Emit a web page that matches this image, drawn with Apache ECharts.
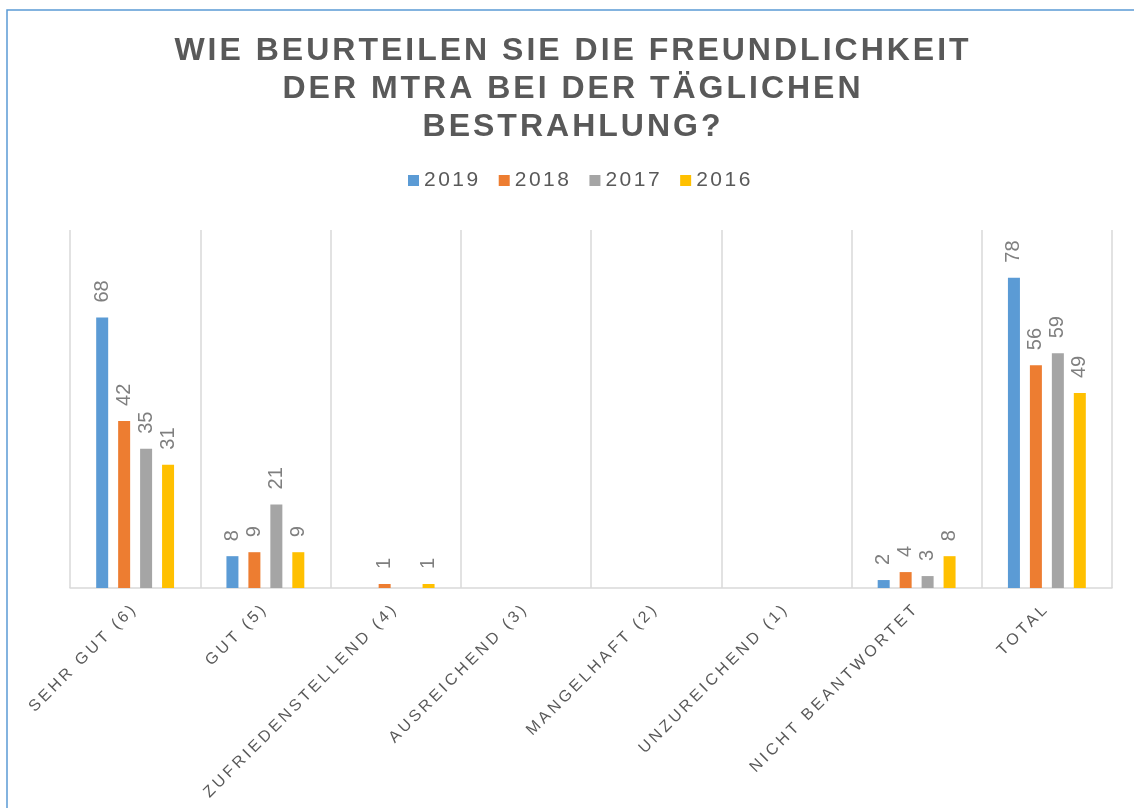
<!DOCTYPE html>
<html>
<head>
<meta charset="utf-8">
<script src="https://cdn.jsdelivr.net/npm/echarts@6/dist/echarts.min.js"></script>
<style>
html,body{margin:0;padding:0;background:#fff;}
#chart{width:1134px;height:808px;}
</style>
</head>
<body>
<div id="chart"></div>
<script>
const titleText = 'WIE BEURTEILEN SIE DIE FREUNDLICHKEIT\nDER MTRA BEI DER TÄGLICHEN\nBESTRAHLUNG?';
const categories = ['SEHR GUT (6)', 'GUT (5)', 'ZUFRIEDENSTELLEND (4)', 'AUSREICHEND (3)', 'MANGELHAFT (2)', 'UNZUREICHEND (1)', 'NICHT BEANTWORTET', 'TOTAL'];
const seriesNames = ['2019', '2018', '2017', '2016'];
const values2019 = [68, 8, null, null, null, null, 2, 78];
const values2018 = [42, 9, 1, null, null, null, 4, 56];
const values2017 = [35, 21, null, null, null, null, 3, 59];
const values2016 = [31, 9, 1, null, null, null, 8, 49];
const colors = ['#5b9bd5', '#ed7d31', '#a5a5a5', '#ffc000'];

// letter spacing per font size (px), applied at draw time
const SPACING = { '32': '3px', '16': '3.3px', '21': '2.5px' };
(function () {
  const P = CanvasRenderingContext2D.prototype;
  const orig = P.fillText;
  P.fillText = function (t, x, y, m) {
    if ('letterSpacing' in this) {
      const mm = /(\d+(?:\.\d+)?)px/.exec(this.font || '');
      this.letterSpacing = (mm && SPACING[mm[1]]) || '0px';
    }
    return m === undefined ? orig.call(this, t, x, y) : orig.call(this, t, x, y, m);
  };
})();

const FONT = '"Liberation Sans", Arial, sans-serif';
const chart = echarts.init(document.getElementById('chart'), null, { renderer: 'canvas' });
const allValues = [values2019, values2018, values2017, values2016];

chart.setOption({
  animation: false,
  backgroundColor: '#ffffff',
  color: colors,
  graphic: [{
    type: 'rect',
    shape: { x: 7, y: 10, width: 1200, height: 900 },
    style: { fill: 'none', stroke: '#5b9bd5', lineWidth: 1.5 },
    silent: true
  }],
  title: {
    text: titleText,
    left: 573,
    textAlign: 'center',
    top: 32,
    padding: 0,
    textStyle: { fontFamily: FONT, fontSize: 32, fontWeight: 'bold', color: '#595959', lineHeight: 38 }
  },
  legend: {
    data: seriesNames,
    left: 408,
    top: 170,
    padding: 0,
    itemWidth: 11,
    itemHeight: 11,
    itemGap: 28,
    icon: 'rect',
    textStyle: { fontFamily: FONT, fontSize: 21, color: '#595959' }
  },
  grid: { left: 70, right: 22, top: 230, bottom: 220, containLabel: false },
  xAxis: {
    type: 'category',
    data: categories,
    boundaryGap: true,
    axisLine: { show: true, lineStyle: { color: '#d9d9d9', width: 1.5 } },
    axisTick: { show: false },
    splitLine: { show: true, lineStyle: { color: '#d9d9d9', width: 1.5 } },
    axisLabel: { interval: 0, rotate: 45, margin: 18, fontFamily: FONT, fontSize: 16, color: '#595959' }
  },
  yAxis: {
    type: 'value',
    min: 0,
    max: 90,
    show: false,
    splitLine: { show: false }
  },
  series: seriesNames.map((name, i) => ({
    name: name,
    type: 'bar',
    data: allValues[i],
    barWidth: 12,
    barGap: '83%',
    itemStyle: { color: colors[i] },
    label: {
      show: true,
      position: 'top',
      rotate: 90,
      align: 'left',
      verticalAlign: 'middle',
      distance: 15,
      fontFamily: FONT,
      fontSize: 20,
      color: '#7f7f7f'
    }
  }))
});
</script>
</body>
</html>
